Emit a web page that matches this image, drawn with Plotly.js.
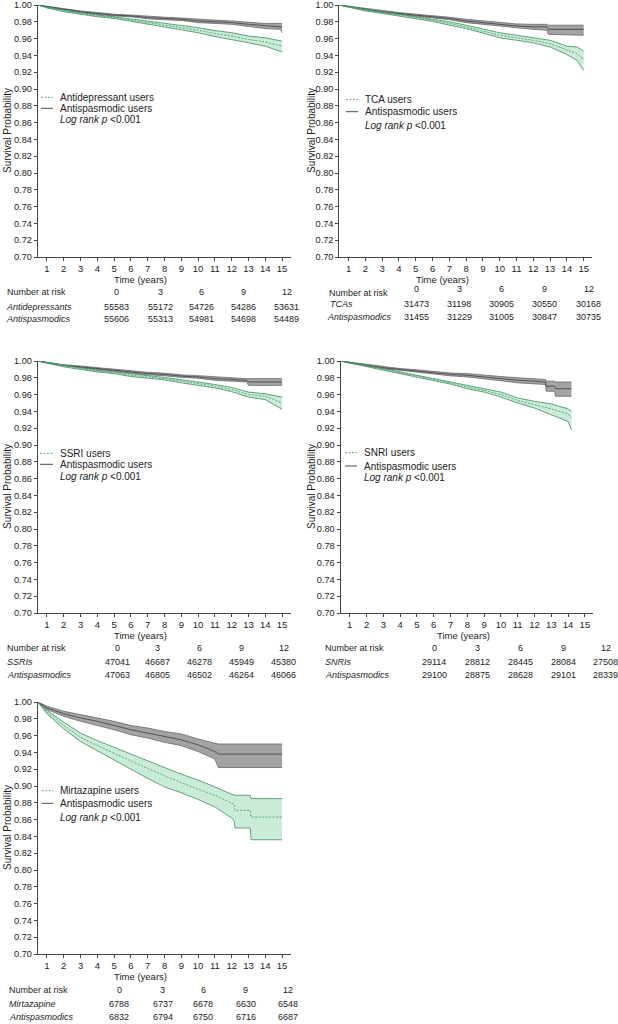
<!DOCTYPE html>
<html>
<head>
<meta charset="utf-8">
<script src="https://cdn.plot.ly/plotly-3.0.1.min.js"></script>
<style>
  html, body { margin: 0; padding: 0; background: #fff; }
  #chart { width: 618px; height: 1024px; }
</style>
</head>
<body>
<div id="chart"></div>
<script>
// ---- axis ticks ----
const xTicks = [1, 2, 3, 4, 5, 6, 7, 8, 9, 10, 11, 12, 13, 14, 15];
const yTicks = [0.70, 0.72, 0.74, 0.76, 0.78, 0.80, 0.82, 0.84, 0.86, 0.88, 0.90, 0.92, 0.94, 0.96, 0.98, 1.00];

// ---- panel A: antidepressants vs antispasmodics ----
const aGreenTime = [0.45, 1, 2, 3, 4, 5, 6, 7, 8, 9, 10, 11, 12, 13, 14, 15];
const aGreenMid = [1.000, 0.997, 0.993, 0.990, 0.987, 0.985, 0.982, 0.979, 0.976, 0.973, 0.970, 0.966, 0.963, 0.959, 0.956, 0.951];
const aGreenUp = [1.000, 0.9975, 0.994, 0.991, 0.988, 0.986, 0.9835, 0.981, 0.978, 0.9755, 0.973, 0.9695, 0.967, 0.963, 0.961, 0.957];
const aGreenLo = [1.000, 0.9965, 0.992, 0.989, 0.986, 0.984, 0.9805, 0.977, 0.974, 0.9705, 0.967, 0.9625, 0.959, 0.955, 0.951, 0.944];
const aGrayTime = [0.45, 1, 2, 3, 4, 5, 6, 7, 8, 9, 10, 11, 12, 13, 14, 14.9, 15];
const aGrayMid = [1.000, 0.998, 0.995, 0.992, 0.990, 0.988, 0.987, 0.985, 0.984, 0.983, 0.981, 0.980, 0.979, 0.977, 0.975, 0.974, 0.974];
const aGrayUp = [1.000, 0.9985, 0.9955, 0.993, 0.991, 0.989, 0.988, 0.9865, 0.9855, 0.9845, 0.983, 0.982, 0.981, 0.9795, 0.978, 0.978, 0.978];
const aGrayLo = [1.000, 0.9975, 0.9945, 0.991, 0.989, 0.987, 0.986, 0.9835, 0.9825, 0.9815, 0.979, 0.978, 0.977, 0.9745, 0.972, 0.971, 0.967];

// ---- panel B: TCAs ----
const bGreenTime = [0.45, 1, 2, 3, 4, 5, 6, 7, 8, 9, 10, 11, 12, 13, 14, 14.6, 15];
const bGreenMid = [1.000, 0.998, 0.994, 0.991, 0.988, 0.985, 0.982, 0.978, 0.974, 0.969, 0.964, 0.961, 0.958, 0.954, 0.947, 0.942, 0.935];
const bGreenUp = [1.000, 0.9985, 0.995, 0.992, 0.989, 0.9865, 0.9835, 0.980, 0.976, 0.9715, 0.967, 0.964, 0.961, 0.958, 0.951, 0.950, 0.945];
const bGreenLo = [1.000, 0.9975, 0.993, 0.990, 0.987, 0.9835, 0.9805, 0.976, 0.972, 0.9665, 0.961, 0.958, 0.955, 0.950, 0.941, 0.934, 0.922];
const bGrayTime = [0.45, 1, 2, 3, 4, 5, 6, 7, 8, 9, 10, 11, 12, 12.8, 12.9, 15];
const bGrayMid = [1.000, 0.998, 0.995, 0.992, 0.990, 0.988, 0.986, 0.984, 0.981, 0.979, 0.977, 0.975, 0.974, 0.974, 0.971, 0.971];
const bGrayUp = [1.000, 0.9985, 0.996, 0.993, 0.991, 0.989, 0.9875, 0.9855, 0.983, 0.981, 0.979, 0.9775, 0.977, 0.977, 0.976, 0.976];
const bGrayLo = [1.000, 0.9975, 0.994, 0.991, 0.989, 0.987, 0.9845, 0.9825, 0.979, 0.977, 0.975, 0.9725, 0.971, 0.970, 0.965, 0.964];

// ---- panel C: SSRIs ----
const cGreenTime = [0.45, 1, 2, 3, 4, 5, 6, 7, 8, 9, 10, 11, 12, 13, 14, 15];
const cGreenMid = [1.000, 0.998, 0.994, 0.991, 0.988, 0.986, 0.983, 0.981, 0.979, 0.976, 0.973, 0.970, 0.966, 0.960, 0.958, 0.950];
const cGreenUp = [1.000, 0.9985, 0.995, 0.992, 0.989, 0.987, 0.9845, 0.9825, 0.9805, 0.978, 0.975, 0.972, 0.9685, 0.963, 0.961, 0.957];
const cGreenLo = [1.000, 0.9975, 0.993, 0.990, 0.987, 0.985, 0.9815, 0.9795, 0.9775, 0.974, 0.971, 0.968, 0.9635, 0.957, 0.954, 0.9425];
const cGrayTime = [0.45, 1, 2, 3, 4, 5, 6, 7, 8, 9, 10, 11, 12, 12.9, 13, 15];
const cGrayMid = [1.000, 0.998, 0.995, 0.993, 0.991, 0.989, 0.987, 0.985, 0.984, 0.982, 0.981, 0.979, 0.978, 0.977, 0.975, 0.975];
const cGrayUp = [1.000, 0.9985, 0.9955, 0.994, 0.992, 0.990, 0.988, 0.9865, 0.9855, 0.9835, 0.9825, 0.981, 0.980, 0.979, 0.979, 0.979];
const cGrayLo = [1.000, 0.9975, 0.9945, 0.992, 0.990, 0.988, 0.986, 0.9835, 0.9825, 0.9805, 0.9795, 0.977, 0.976, 0.975, 0.971, 0.971];

// ---- panel D: SNRIs ----
const dGreenTime = [0.45, 1, 2, 3, 4, 5, 6, 7, 8, 9, 10, 11, 12, 13, 14, 14.2];
const dGreenMid = [1.000, 0.998, 0.994, 0.990, 0.986, 0.982, 0.978, 0.974, 0.969, 0.965, 0.960, 0.953, 0.948, 0.943, 0.937, 0.932];
const dGreenUp = [1.000, 0.9985, 0.995, 0.991, 0.987, 0.9835, 0.9795, 0.9755, 0.971, 0.967, 0.963, 0.956, 0.952, 0.949, 0.943, 0.940];
const dGreenLo = [1.000, 0.9975, 0.993, 0.989, 0.985, 0.9805, 0.9765, 0.9725, 0.967, 0.963, 0.957, 0.950, 0.944, 0.936, 0.928, 0.918];
const dGrayTime = [0.45, 1, 2, 3, 4, 5, 6, 7, 8, 9, 10, 11, 12, 12.65, 12.7, 13.2, 13.25, 14.2];
const dGrayMid = [1.000, 0.998, 0.995, 0.992, 0.990, 0.988, 0.986, 0.984, 0.983, 0.981, 0.979, 0.977, 0.976, 0.975, 0.970, 0.970, 0.967, 0.967];
const dGrayUp = [1.000, 0.9985, 0.996, 0.993, 0.991, 0.9895, 0.9875, 0.9857, 0.985, 0.983, 0.9815, 0.980, 0.979, 0.978, 0.976, 0.976, 0.975, 0.975];
const dGrayLo = [1.000, 0.9975, 0.994, 0.991, 0.989, 0.9865, 0.9845, 0.9823, 0.981, 0.979, 0.9765, 0.974, 0.973, 0.972, 0.964, 0.964, 0.958, 0.958];

// ---- panel E: mirtazapine ----
const eGreenTime = [0.45, 1, 2, 3, 4, 5, 6, 7, 8, 9, 10, 11, 12, 12.15, 12.2, 13.1, 13.15, 15];
const eGreenMid = [1.000, 0.988, 0.972, 0.958, 0.948, 0.939, 0.930, 0.921, 0.912, 0.904, 0.896, 0.889, 0.880, 0.878, 0.871, 0.871, 0.863, 0.863];
const eGreenUp = [1.000, 0.990, 0.976, 0.963, 0.954, 0.946, 0.938, 0.930, 0.922, 0.914, 0.907, 0.899, 0.890, 0.889, 0.889, 0.889, 0.885, 0.885];
const eGreenLo = [1.000, 0.986, 0.968, 0.953, 0.942, 0.931, 0.919, 0.909, 0.899, 0.892, 0.884, 0.875, 0.862, 0.858, 0.850, 0.850, 0.836, 0.836];
const eGrayTime = [0.45, 1, 2, 3, 4, 5, 6, 7, 8, 9, 10, 11, 11.2, 15];
const eGrayMid = [1.000, 0.993, 0.986, 0.981, 0.977, 0.972, 0.967, 0.963, 0.959, 0.955, 0.949, 0.941, 0.938, 0.938];
const eGrayUp = [1.000, 0.995, 0.989, 0.985, 0.981, 0.977, 0.972, 0.969, 0.965, 0.962, 0.956, 0.951, 0.950, 0.950];
const eGrayLo = [1.000, 0.991, 0.983, 0.977, 0.972, 0.967, 0.961, 0.957, 0.952, 0.948, 0.941, 0.932, 0.922, 0.922];

// ---- number at risk ----
const riskTimes = [0, 3, 6, 9, 12];
const riskAntidep = [55583, 55172, 54726, 54286, 53631];
const riskAntisp1 = [55606, 55313, 54981, 54698, 54489];
const riskTCA = [31473, 31198, 30905, 30550, 30168];
const riskAntisp2 = [31455, 31229, 31005, 30847, 30735];
const riskSSRI = [47041, 46687, 46278, 45949, 45380];
const riskAntisp3 = [47063, 46805, 46502, 46264, 46066];
const riskSNRI = [29114, 28812, 28445, 28084, 27508];
const riskAntisp4 = [29100, 28875, 28628, 29101, 28339];
const riskMirt = [6788, 6737, 6678, 6630, 6548];
const riskAntisp5 = [6832, 6794, 6750, 6716, 6687];

// ---- layout helpers (pixels -> paper) ----
const W = 618, H = 1024;
const px = (x) => x / W;
const py = (y) => 1 - y / H;

const FONT = "Liberation Sans, Arial, sans-serif";
const TXT = "#222";
const GREEN_LINE = "#3d8c5c";
const GREEN_MID = "#4f9e6d";
const GREEN_FILL = "rgba(140, 210, 170, 0.45)";
const GRAY_LINE = "#686868";
const GRAY_MID = "#4a4a4a";
const GRAY_FILL = "rgba(128, 128, 128, 0.72)";

const panels = [
    {
        box: [37.7, 290.5, 5, 257],
        gray: [aGrayTime, aGrayLo, aGrayUp, aGrayMid],
        green: [aGreenTime, aGreenLo, aGreenUp, aGreenMid],
        drug: "Antidepressant users",
        legend: { x0: 41, x1: 53, tx: 58, rows: [97.3, 108.3, 119.5] },
        yTitleX: 7,
        timeTitle: [140, 279.3],
        risk: {
            nar: [5, 292], hdrY: 292, cols: [116.7, 160, 201, 243.3, 286.7],
            rows: [["Antidepressants", 4, 306.7, riskAntidep], ["Antispasmodics", 4, 319.3, riskAntisp1]],
        },
    },
    {
        box: [339.3, 592.1, 5, 257],
        gray: [bGrayTime, bGrayLo, bGrayUp, bGrayMid],
        green: [bGreenTime, bGreenLo, bGreenUp, bGreenMid],
        drug: "TCA users",
        legend: { x0: 346, x1: 358, tx: 363.3, rows: [99.3, 111.7, 125] },
        yTitleX: 311,
        timeTitle: [442.8, 279.3],
        risk: {
            nar: [327, 293.3], hdrY: 289.3, cols: [416, 459, 501.7, 544.3, 588.5],
            rows: [["TCAs", 328.3, 304, riskTCA], ["Antispasmodics", 325, 317.3, riskAntisp2]],
        },
    },
    {
        box: [37.7, 290.5, 361, 613],
        gray: [cGrayTime, cGrayLo, cGrayUp, cGrayMid],
        green: [cGreenTime, cGreenLo, cGreenUp, cGreenMid],
        drug: "SSRI users",
        legend: { x0: 40, x1: 53, tx: 58.3, rows: [453.3, 464.3, 476] },
        yTitleX: 7,
        timeTitle: [140, 635.3],
        risk: {
            nar: [5, 648.3], hdrY: 648.3, cols: [117, 157, 199, 241.5, 283.5],
            rows: [["SSRIs", 5, 661.7, riskSSRI], ["Antispasmodics", 5, 675, riskAntisp3]],
        },
    },
    {
        box: [340.5, 593.3, 361, 613],
        gray: [dGrayTime, dGrayLo, dGrayUp, dGrayMid],
        green: [dGreenTime, dGreenLo, dGreenUp, dGreenMid],
        drug: "SNRI users",
        legend: { x0: 345, x1: 357, tx: 362.3, rows: [452.7, 466, 477.3] },
        yTitleX: 311,
        timeTitle: [463, 635.3],
        risk: {
            nar: [323, 648.3], hdrY: 648.3, cols: [434, 477.5, 520.5, 563.5, 605.5],
            rows: [["SNRIs", 323, 661.7, riskSNRI], ["Antispasmodics", 323, 675, riskAntisp4]],
        },
    },
    {
        box: [37.7, 290.5, 702, 954],
        gray: [eGrayTime, eGrayLo, eGrayUp, eGrayMid],
        green: [eGreenTime, eGreenLo, eGreenUp, eGreenMid],
        drug: "Mirtazapine users",
        legend: { x0: 41.7, x1: 53.3, tx: 58.3, rows: [790.7, 803.3, 817.7] },
        yTitleX: 7,
        timeTitle: [140.5, 976],
        risk: {
            nar: [7.3, 990], hdrY: 990, cols: [119.3, 162.7, 203.3, 245.7, 287.7],
            rows: [["Mirtazapine", 7, 1004, riskMirt], ["Antispasmodics", 6.7, 1017.3, riskAntisp5]],
        },
    },
];

const data = [];
const annotations = [];
const shapes = [];
const layout = {
    width: W,
    height: H,
    margin: { l: 0, r: 0, t: 0, b: 0 },
    paper_bgcolor: "#fff",
    plot_bgcolor: "rgba(0,0,0,0)",
    showlegend: false,
    font: { family: FONT, color: TXT, size: 9.5 },
};

function band(xa, ya, series, lineColor, fillColor, midColor, midDash) {
    const [t, lo, up, mid] = series;
    data.push({
        x: t, y: lo, xaxis: xa, yaxis: ya, mode: "lines",
        line: { color: lineColor, width: 0.8 }, hoverinfo: "skip",
    });
    data.push({
        x: t, y: up, xaxis: xa, yaxis: ya, mode: "lines", fill: "tonexty",
        fillcolor: fillColor, line: { color: lineColor, width: 0.8 }, hoverinfo: "skip",
    });
    data.push({
        x: t, y: mid, xaxis: xa, yaxis: ya, mode: "lines",
        line: { color: midColor, width: 0.9, dash: midDash }, hoverinfo: "skip",
    });
}

function note(x, y, text, opts = {}) {
    annotations.push(Object.assign({
        xref: "paper", yref: "paper", x: px(x), y: py(y), text: text,
        showarrow: false, xanchor: "left", yanchor: "middle",
        font: { family: FONT, size: 9, color: TXT },
    }, opts));
}

panels.forEach((p, i) => {
    const n = i === 0 ? "" : String(i + 1);
    const xa = "x" + n, ya = "y" + n;
    const [x0, x1, y0, y1] = p.box;

    layout["xaxis" + n] = {
        domain: [px(x0), px(x1)], range: [0.45, 15.5], anchor: ya,
        showline: true, linecolor: "#444", linewidth: 1,
        ticks: "outside", ticklen: 3, tickcolor: "#444", tickwidth: 1,
        tickvals: xTicks, showgrid: false, zeroline: false, fixedrange: true,
        ticklabeloverflow: "allow",
        tickfont: { family: FONT, size: 9.5, color: TXT },
    };
    layout["yaxis" + n] = {
        domain: [py(y1), py(y0)], range: [0.7, 1.0], anchor: xa,
        showline: true, linecolor: "#444", linewidth: 1,
        ticks: "outside", ticklen: 3, tickcolor: "#444", tickwidth: 1,
        tickvals: yTicks, tickformat: ".2f", showgrid: false, zeroline: false, fixedrange: true,
        ticklabeloverflow: "allow",
        tickfont: { family: FONT, size: 9.2, color: TXT },
    };

    // antispasmodic band first, drug band on top
    band(xa, ya, p.gray, GRAY_LINE, GRAY_FILL, GRAY_MID, "solid");
    band(xa, ya, p.green, GREEN_LINE, GREEN_FILL, GREEN_MID, "2px,1.5px");

    // axis titles
    note(p.yTitleX, (y0 + y1) / 2, "Survival Probability", {
        textangle: -90, xanchor: "center", font: { family: FONT, size: 10, color: TXT },
    });
    note(p.timeTitle[0], p.timeTitle[1], "Time (years)", {
        xanchor: "center", font: { family: FONT, size: 9.5, color: TXT },
    });

    // legend
    const lg = p.legend;
    shapes.push({
        type: "line", xref: "paper", yref: "paper",
        x0: px(lg.x0), x1: px(lg.x1), y0: py(lg.rows[0]), y1: py(lg.rows[0]),
        line: { color: GREEN_MID, width: 0.9, dash: "2px,1.5px" },
    });
    shapes.push({
        type: "line", xref: "paper", yref: "paper",
        x0: px(lg.x0), x1: px(lg.x1), y0: py(lg.rows[1]), y1: py(lg.rows[1]),
        line: { color: GRAY_MID, width: 1 },
    });
    const lgFont = { family: FONT, size: 10, color: TXT };
    note(lg.tx, lg.rows[0], p.drug, { font: lgFont });
    note(lg.tx, lg.rows[1], "Antispasmodic users", { font: lgFont });
    note(lg.tx, lg.rows[2], "<i>Log rank p</i> &lt;0.001", { font: lgFont });

    // number at risk table
    const r = p.risk;
    note(r.nar[0], r.nar[1], "Number at risk");
    riskTimes.forEach((t, k) => note(r.cols[k], r.hdrY, String(t), { xanchor: "center" }));
    r.rows.forEach(([label, lx, ry, vals]) => {
        note(lx, ry, "<i>" + label + "</i>");
        vals.forEach((v, k) => note(r.cols[k], ry, String(v), { xanchor: "center" }));
    });
});

layout.annotations = annotations;
layout.shapes = shapes;

Plotly.newPlot("chart", data, layout, { staticPlot: true, displayModeBar: false });
</script>
</body>
</html>
